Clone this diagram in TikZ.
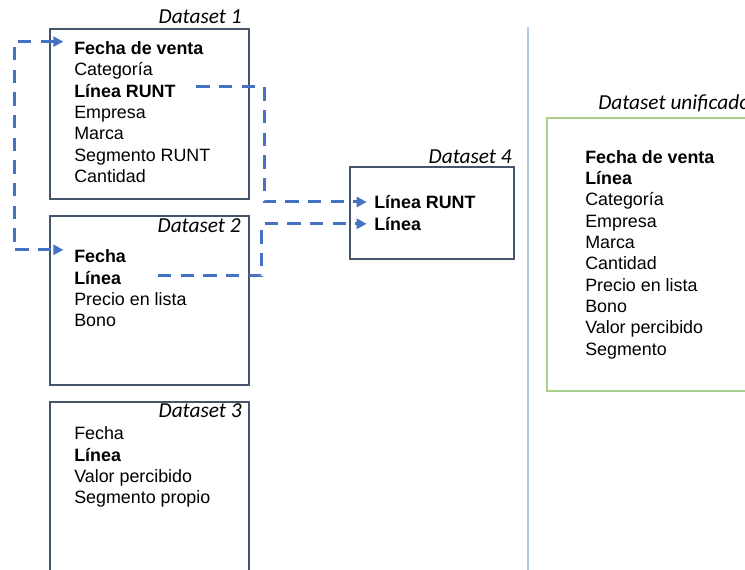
\documentclass[tikz,border=0pt]{standalone}
\usepackage{fontspec}
\setmainfont{Liberation Sans}
\newfontfamily\titlefont{Carlito}
\usetikzlibrary{arrows.meta}
\definecolor{boxgray}{HTML}{44546A}
\definecolor{linkblue}{HTML}{4472C4}
\definecolor{unigreen}{HTML}{A9D18E}
\definecolor{sepblue}{HTML}{B4C7E7}
\begin{document}
\begin{tikzpicture}[x=0.75pt, y=-0.75pt,
    every node/.style={inner sep=0pt},
    tabla/.style={draw=boxgray, line width=1.5pt, anchor=north west},
    campo/.style={anchor=west, text height=9.6pt, text depth=0pt, font=\fontsize{13.4}{16}\selectfont},
    clave/.style={campo, font=\fontsize{13.4}{16}\selectfont\bfseries},
    titulo/.style={font=\titlefont\itshape\fontsize{16}{19}\selectfont},
    punta/.style={-{Triangle[length=7.5pt,width=7.5pt]}},
    enlace/.style={draw=linkblue, line width=2.25pt, dash pattern=on 10pt off 7pt, punta}]
    \useasboundingbox (0,0) rectangle (745,570);

    % Tablas
    \node[tabla, minimum width=149.25pt, minimum height=127.5pt] (d1) at (49,28) {};
    \node[tabla, minimum width=149.25pt, minimum height=126.75pt] (d2) at (49,215) {};
    \node[tabla, minimum width=149.25pt, minimum height=127.5pt] (d3) at (49,401) {};
    \node[tabla, minimum width=123.25pt, minimum height=68.75pt] (d4) at (349,166) {};
    \node[tabla, draw=unigreen, minimum width=157.5pt, minimum height=204.5pt] (du) at (546,117.5) {};
    \draw[sepblue, line width=1.5pt] (528,27) -- (528,575);

    % Titulos
    \node[titulo, anchor=east] (t1) at (242,17) {Dataset 1};
    \node[titulo, anchor=east] (t2) at (241,226) {Dataset 2};
    \node[titulo, anchor=east] (t3) at (242,411) {Dataset 3};
    \node[titulo, anchor=east] (t4) at (512,157) {Dataset 4};
    \node[titulo, anchor=west] (tu) at (598,103) {Dataset unificado};

    % Dataset 1
    \node[clave] (fv1) at (74,48.3) {Fecha de venta};
    \node[campo] (ca1) at (74,69.6) {Categoría};
    \node[clave] (lr1) at (74,91) {Línea RUNT};
    \node[campo] (em1) at (74,112.3) {Empresa};
    \node[campo] (ma1) at (74,133.6) {Marca};
    \node[campo] (sr1) at (74,155) {Segmento RUNT};
    \node[campo] (cn1) at (74,176.3) {Cantidad};

    % Dataset 2
    \node[clave] (f2) at (74,256.5) {Fecha};
    \node[clave] (l2) at (74,277.8) {Línea};
    \node[campo] (pl2) at (74,299.1) {Precio en lista};
    \node[campo] (bo2) at (74,320.4) {Bono};

    % Dataset 3
    \node[campo] (f3) at (74,433.5) {Fecha};
    \node[clave] (l3) at (74,454.8) {Línea};
    \node[campo] (vp3) at (74,476.1) {Valor percibido};
    \node[campo] (sp3) at (74,497.4) {Segmento propio};

    % Dataset 4
    \node[clave] (lr4) at (374,202) {Línea RUNT};
    \node[clave] (l4) at (374,223.8) {Línea};

    % Dataset unificado
    \node[clave] (fvu) at (585,156.7) {Fecha de venta};
    \node[clave] (lu) at (585,178) {Línea};
    \node[campo] (cau) at (585,199.3) {Categoría};
    \node[campo] (emu) at (585,220.7) {Empresa};
    \node[campo] (mau) at (585,242) {Marca};
    \node[campo] (cnu) at (585,263.3) {Cantidad};
    \node[campo] (plu) at (585,284.7) {Precio en lista};
    \node[campo] (bou) at (585,306) {Bono};
    \node[campo] (vpu) at (585,327.3) {Valor percibido};
    \node[campo] (sgu) at (585,348.7) {Segmento};

    % Enlaces
    \coordinate (codo1) at (14,0);
    \coordinate (codo2) at (264,0);
    \coordinate (codo3) at (261.7,0);
    \draw[enlace, {Triangle[length=7.5pt,width=7.5pt]}-{Triangle[length=7.5pt,width=7.5pt]}, shorten <=8pt, shorten >=8pt]
        ([yshift=5pt]fv1.west) -- ([yshift=5pt]fv1.west -| codo1) |- ([yshift=5pt]f2.west);
    \draw[enlace, shorten <=15.5pt, shorten >=5.5pt]
        ([yshift=3pt]lr1.east) -- ([yshift=3pt]lr1.east -| codo2) |- (lr4.west);
    \draw[enlace, shorten <=27.5pt, shorten >=5.5pt]
        ([yshift=1.5pt]l2.east) -- ([yshift=1.5pt]l2.east -| codo3) |- (l4.west);
\end{tikzpicture}
\end{document}
